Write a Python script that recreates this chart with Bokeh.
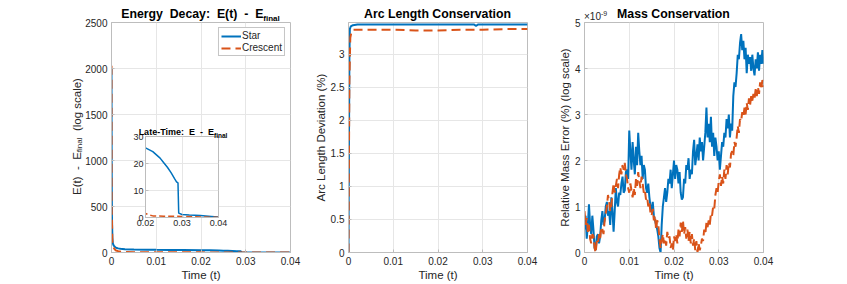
from bokeh.plotting import figure
from bokeh.models import (Range1d, FixedTicker, CustomJSTickFormatter,
                          Legend, LegendItem, GridBox, Div)
from bokeh.embed import file_html
from bokeh.resources import INLINE

FONT = "Liberation Sans"
BLUE = "#0072BD"
ORANGE = "#D95319"
TXT = "#262626"
BOX = "#bdbdbd"
GRID = "#e6e6e6"

# ---------------- data ----------------
series_names = ["Star", "Crescent"]
time_ticks = [0, 0.01, 0.02, 0.03, 0.04]

# Energy decay E(t) - E_final
energy_t_star = [0.0, 0.00005, 0.0001, 0.0002, 0.0003, 0.0005, 0.0008, 0.001, 0.0015,
                 0.002, 0.003, 0.005, 0.008, 0.01, 0.013, 0.016, 0.02, 0.022, 0.024,
                 0.025, 0.026, 0.027, 0.028, 0.0285, 0.0289, 0.0291, 0.03, 0.032,
                 0.035, 0.038, 0.04]
energy_star = [2000, 900, 400, 160, 100, 75, 60, 52, 45,
               40, 35, 32, 30, 29, 28, 27, 25.8, 24.4, 22.0,
               20.3, 18.6, 16.6, 14.3, 13.2, 12.8, 1.6, 1.1, 0.9,
               0.7, 0.4, 0.2]
energy_t_cres = [0.0, 0.00003, 0.0001, 0.0002, 0.0004, 0.0007, 0.001, 0.0015, 0.002,
                 0.003, 0.005, 0.01, 0.015, 0.02, 0.021, 0.022, 0.025, 0.03, 0.035, 0.04]
energy_cres = [2030, 500, 350, 120, 60, 35, 22, 15, 10,
               6, 4, 3, 2.2, 1.5, 0.9, 0.6, 0.5, 0.4, 0.2, 0.05]
energy_ticks = [0, 500, 1000, 1500, 2000, 2500]
inset_t_ticks = [0.02, 0.03, 0.04]
inset_e_ticks = [0, 10, 20, 30]

# Arc length deviation (%)
arc_t_star = [0, 0.0001, 0.0002, 0.0003, 0.0005, 0.001, 0.002, 0.005, 0.01, 0.02,
              0.028, 0.0285, 0.029, 0.035, 0.04]
arc_star = [0, 1.6, 2.9, 3.38, 3.42, 3.44, 3.45, 3.45, 3.45, 3.45,
            3.45, 3.43, 3.45, 3.45, 3.45]
arc_t_cres = [0, 0.0001, 0.0002, 0.0004, 0.0007, 0.001, 0.002, 0.005, 0.01, 0.015,
              0.02, 0.025, 0.03, 0.035, 0.04]
arc_cres = [0, 1.4, 2.6, 3.25, 3.35, 3.37, 3.37, 3.37, 3.37, 3.36,
            3.36, 3.37, 3.37, 3.38, 3.38]
arc_ticks = [0, 0.5, 1, 1.5, 2, 2.5, 3]

# Relative mass error (units of 1e-9), sampled every 0.00025
mass_t = [round(i * 0.00025, 5) for i in range(161)]
mass_star_e9 = [
    0.5, 0.8, 0.3, 0.6, 1.05, 0.6, 0.4, 0.8, 0.5, 0.1,
    0.05, 0.35, 0.4, 0.2, 0.35, 0.7, 0.9, 0.6, 0.7, 1.0,
    1.1, 0.8, 0.9, 0.6, 1.2, 0.9, 0.45, 0.9, 1.4, 1.1,
    1.0, 1.3, 1.25, 1.5, 1.65, 1.3, 1.35, 1.75, 1.8, 1.6,
    2.65, 2.2, 1.8, 2.4, 2.0, 1.7, 2.3, 1.9, 2.6, 2.2,
    1.9, 2.1, 1.6, 1.9, 1.8, 1.4, 1.3, 1.5, 1.2, 1.0,
    0.9, 1.1, 0.8, 0.7, 0.6, 0.5, 0.35, 0.1, 0.0, 0.6,
    1.0, 1.2, 1.4, 1.1, 1.3, 1.6, 1.5, 1.8, 1.4, 1.7,
    2.0, 1.6, 1.9, 1.8, 1.5, 1.75, 1.3, 1.15, 1.2, 1.6,
    1.5, 1.9, 1.8, 2.05, 1.6, 1.8, 1.7, 2.2, 2.45, 1.9,
    2.1, 2.35, 2.0, 2.5, 2.2, 2.4, 2.0, 2.3, 2.6, 3.15,
    2.5, 2.8, 2.4, 2.95, 2.3, 2.6, 2.1, 2.5, 2.3, 2.0,
    2.2, 1.8, 2.1, 2.4, 2.3, 2.6, 2.5, 2.9, 2.7, 3.0,
    2.5, 2.8, 2.65, 3.4, 3.7, 3.6, 3.9, 4.3, 4.2, 4.55,
    4.75, 4.4, 4.6, 4.2, 4.45, 3.9, 4.3, 4.1, 4.25, 3.95,
    4.3, 4.0, 3.85, 4.2, 4.0, 4.35, 3.95, 4.3, 4.1, 4.4,
    4.1]
mass_cres_e9 = [
    0.9, 0.6, 0.75, 0.45, 0.6, 0.3, 0.2, 0.4, 0.35, 0.1,
    0.0, 0.25, 0.2, 0.4, 0.3, 0.55, 0.5, 0.4, 0.7, 0.85,
    1.0, 1.25, 1.1, 0.9, 1.0, 1.3, 1.5, 1.3, 1.45, 1.6,
    1.4, 1.7, 1.85, 1.7, 1.9, 1.8, 1.95, 1.7, 1.6, 1.4,
    1.3, 1.5, 1.35, 1.2, 1.4, 1.25, 1.6, 1.45, 1.75, 1.55,
    1.4, 1.65, 1.5, 1.3, 1.35, 1.15, 1.2, 1.0, 1.1, 0.85,
    0.8, 0.95, 0.7, 0.8, 0.5, 0.7, 0.6, 0.3, 0.1, 0.25,
    0.4, 0.2, 0.3, 0.15, 0.45, 0.3, 0.35, 0.1, 0.2, 0.05,
    0.35, 0.25, 0.4, 0.2, 0.5, 0.35, 0.65, 0.45, 0.7, 0.4,
    0.55, 0.3, 0.5, 0.25, 0.45, 0.2, 0.4, 0.15, 0.3, 0.05,
    0.25, 0.0, 0.2, 0.05, 0.15, 0.3, 0.25, 0.5, 0.4, 0.65,
    0.55, 0.7, 0.6, 0.85, 0.8, 1.0, 0.95, 1.25, 1.4, 1.3,
    1.55, 1.7, 1.45, 1.65, 1.5, 1.8, 1.6, 1.9, 1.7, 1.95,
    1.85, 2.15, 2.2, 2.1, 2.4, 2.3, 2.5, 2.75, 2.6, 2.9,
    2.85, 3.05, 2.95, 3.15, 3.0, 3.25, 3.1, 3.35, 3.2, 3.4,
    3.3, 3.45, 3.35, 3.55, 3.4, 3.6, 3.45, 3.7, 3.55, 3.75,
    3.6]
mass_ticks = [0, 1, 2, 3, 4, 5]

FMT = "return String(Number(tick.toFixed(6)));"


def make_fig(width, height, xr, yr, bl, br, bt, bb):
    p = figure(width=width, height=height, x_range=Range1d(*xr), y_range=Range1d(*yr),
               output_backend="svg", toolbar_location=None, title=None,
               min_border_left=bl, min_border_right=br, min_border_top=bt,
               min_border_bottom=bb)
    p.outline_line_color = BOX
    p.background_fill_color = "white"
    p.border_fill_color = "white"
    return p


def style(p, xticks, yticks, tick_size="10px", label_size="11.5px"):
    p.xaxis.ticker = FixedTicker(ticks=xticks)
    p.yaxis.ticker = FixedTicker(ticks=yticks)
    for ax in list(p.xaxis) + list(p.yaxis):
        ax.formatter = CustomJSTickFormatter(code=FMT)
        ax.axis_line_color = BOX
        ax.major_tick_line_color = BOX
        ax.major_tick_in = 3
        ax.major_tick_out = 0
        ax.minor_tick_line_color = None
        ax.major_label_text_font = FONT
        ax.major_label_text_font_size = tick_size
        ax.major_label_text_color = TXT
        ax.major_label_standoff = 4
        ax.axis_label_text_font = FONT
        ax.axis_label_text_font_size = label_size
        ax.axis_label_text_font_style = "normal"
        ax.axis_label_text_color = TXT
        ax.axis_label_standoff = 1
    p.grid.grid_line_color = GRID


def html_div(html, w, h):
    return Div(text=html, width=w, height=h, margin=0,
               styles={"overflow": "visible"})


def title_div(main, sub, w, size="12.3px", subsize="8px", lh="14px"):
    s = (f"<div style=\"width:{w}px;text-align:center;font-family:'{FONT}';"
         f"font-size:{size};font-weight:bold;color:#000;line-height:{lh};"
         f"white-space:pre;\">{main}")
    if sub:
        s += f"<span style=\"font-size:{subsize};vertical-align:-2.5px;\">{sub}</span>"
    s += "</div>"
    return s


# ---------------- panel 1: energy ----------------
p1 = make_fig(305, 284, (0, 0.04), (0, 2500), 111, 15, 22, 32)
r_s = p1.line(energy_t_star, energy_star, line_color=BLUE, line_width=2)
r_c = p1.line(energy_t_cres, energy_cres, line_color=ORANGE, line_width=2,
              line_dash="9 5")
style(p1, time_ticks, energy_ticks)
p1.xaxis.axis_label = "Time (t)"

legend = Legend(items=[LegendItem(label=series_names[0], renderers=[r_s]),
                       LegendItem(label=series_names[1], renderers=[r_c])],
                location="top_right")
legend.label_text_font = FONT
legend.label_text_font_size = "10px"
legend.label_text_color = TXT
legend.label_standoff = 1
legend.label_height = 10
legend.glyph_height = 10
legend.glyph_width = 20
legend.spacing = 1
legend.padding = 2
legend.margin = 5
legend.border_line_color = "#8c8c8c"
legend.border_line_width = 1
legend.background_fill_alpha = 1
p1.add_layout(legend)

# inset
inset = make_fig(107, 110, (0.02, 0.04), (0, 30), 20, 14, 15, 14)
inset.border_fill_alpha = 0
inset.line(energy_t_star, energy_star, line_color=BLUE, line_width=1.5)
inset.line(energy_t_cres, energy_cres, line_color=ORANGE, line_width=1.5, line_dash="6 3")
style(inset, inset_t_ticks, inset_e_ticks, tick_size="9px")
for ax in list(inset.xaxis) + list(inset.yaxis):
    ax.major_label_standoff = 2

# ---------------- panel 2: arc length ----------------
p2 = make_fig(235, 284, (0, 0.04), (0, 3.48), 43, 13, 22, 32)
p2.line(arc_t_star, arc_star, line_color=BLUE, line_width=2)
p2.line(arc_t_cres, arc_cres, line_color=ORANGE, line_width=2, line_dash="9 5")
style(p2, time_ticks, arc_ticks)
p2.xaxis.axis_label = "Time (t)"
p2.yaxis.axis_label = "Arc Length Deviation (%)"

# ---------------- panel 3: mass ----------------
p3 = make_fig(307, 284, (0, 0.04), (0, 5), 44, 84, 22, 32)
p3.line(mass_t, mass_star_e9, line_color=BLUE, line_width=2)
p3.line(mass_t, mass_cres_e9, line_color=ORANGE, line_width=2, line_dash="9 4")
style(p3, time_ticks, mass_ticks)
p3.xaxis.axis_label = "Time (t)"
p3.yaxis.axis_label = "Relative Mass Error (%) (log scale)"

# ---------------- text blocks ----------------
t1 = html_div(title_div("Energy  Decay:  E(t)  -  E", "final", 179), 179, 14)
t2 = html_div(title_div("Arc Length Conservation", None, 179), 179, 14)
t3 = html_div(title_div("Mass Conservation", None, 179), 179, 14)
tin = html_div(title_div("Late-Time:  E  -  E", "final", 120, size="9px",
                         subsize="6.5px", lh="11px"), 120, 11)
exp3 = html_div(f"<div style=\"font-family:'{FONT}';font-size:10px;color:{TXT};"
                f"line-height:12px;white-space:pre;\">\u00d710"
                f"<span style=\"font-size:7px;vertical-align:4px;\">-9</span></div>", 40, 12)
ylab1 = html_div(f"<div style=\"width:16px;height:230px;writing-mode:vertical-rl;"
                 f"transform:rotate(180deg);text-align:center;font-family:'{FONT}';"
                 f"font-size:11.5px;line-height:16px;color:{TXT};white-space:pre;\">"
                 f"E(t)  -  E<span style=\"font-size:8px;vertical-align:-2.5px;\">final</span>"
                 f"  (log scale)</div>", 16, 230)


def place(obj, x, y, w, h):
    return (obj, y, x, h, w)


grid = GridBox(children=[
    place(p1, 0, 0, 305, 284),
    place(p2, 305, 0, 235, 284),
    place(p3, 540, 0, 307, 284),
    place(inset, 125, 121, 107, 110),
    place(t1, 111, 6, 179, 14),
    place(t2, 348, 6, 179, 14),
    place(t3, 584, 6, 179, 14),
    place(exp3, 584, 8, 40, 12),
    place(tin, 123, 123, 120, 11),
    place(ylab1, 69, 22, 16, 230),
], rows="1px", cols="1px", width=847, height=284)

open("out.html", "w").write(file_html(grid, INLINE))
